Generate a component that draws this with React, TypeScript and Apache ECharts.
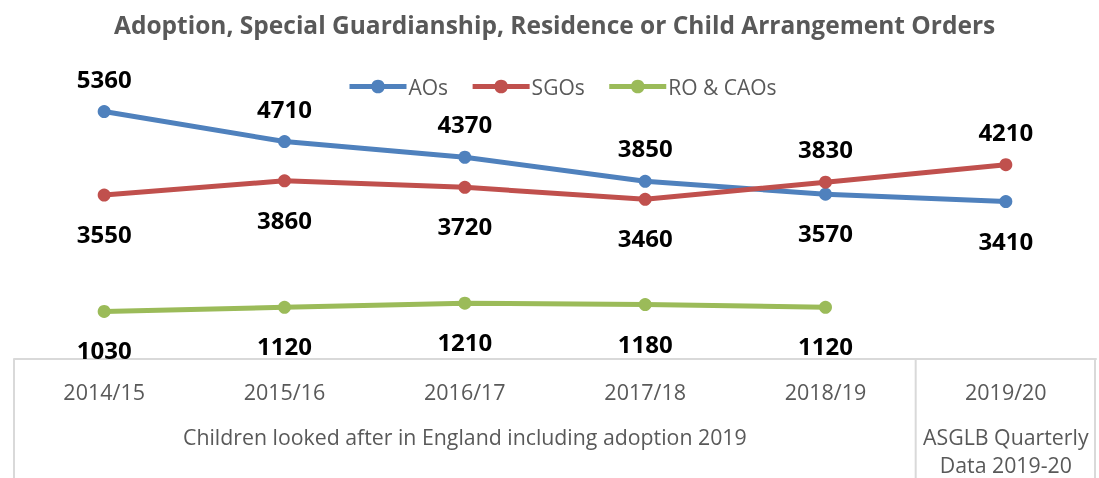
import React, { useEffect, useRef } from "react";
import * as echarts from "echarts";

const categories = ["2014/15", "2015/16", "2016/17", "2017/18", "2018/19", "2019/20"];
const groupLabels = ["", "", "Children looked after in England including adoption 2019", "", "", "ASGLB Quarterly\nData 2019-20"];
const aos = [5360, 4710, 4370, 3850, 3570, 3410];
const sgos = [3550, 3860, 3720, 3460, 3830, 4210];
const roCaos = [1030, 1120, 1210, 1180, 1120, null];
const aosLabelPos = ["top", "top", "top", "top", "bottom", "bottom"];
const sgosLabelPos = ["bottom", "bottom", "bottom", "bottom", "top", "top"];

const FONT = "'Open Sans', 'Noto Sans', sans-serif";
const GRAY = "#595959";
const BORDER = "#d9d9d9";

export default function App() {
  const ref = useRef<HTMLDivElement>(null);
  useEffect(() => {
    if (!ref.current) return;
    const chart = echarts.init(ref.current, undefined, { renderer: "svg" });
    const labelBase = { show: true, fontFamily: FONT, fontWeight: "bold", fontSize: 24, color: "#000" };
    const mk = (vals: (number | null)[], pos: string[] | null, defPos: string) =>
      vals.map((v, i) => {
        const p = pos ? pos[i] : defPos;
        return { value: v, label: { position: p, distance: p === "top" ? 15 : 20 } };
      });
    chart.setOption({
      animation: false,
      textStyle: { fontFamily: FONT },
      title: {
        text: "Adoption, Special Guardianship, Residence or Child Arrangement Orders",
        left: 109,
        top: 7,
        textStyle: { fontFamily: FONT, fontWeight: "bold", fontSize: 24.5, color: GRAY },
      },
      legend: {
        left: 347,
        top: 76,
        padding: 0,
        itemWidth: 57,
        itemHeight: 17,
        itemGap: 22,
        lineStyle: { width: 5 },
        textStyle: { fontFamily: FONT, fontSize: 21, color: GRAY, padding: [0, 0, 0, -3] },
        data: ["AOs", "SGOs", "RO & CAOs"],
      },
      grid: { left: 14, right: 3, top: 82, bottom: 117 },
      xAxis: [
        {
          type: "category",
          data: categories,
          position: "bottom",
          axisLine: { show: true, lineStyle: { color: BORDER, width: 2 } },
          axisTick: { show: false },
          axisLabel: { interval: 0, margin: 21, fontFamily: FONT, fontSize: 21.5, color: GRAY },
        },
        {
          type: "category",
          data: groupLabels,
          position: "bottom",
          axisLine: { show: false },
          axisTick: { show: false },
          axisLabel: { interval: 0, margin: 63, fontFamily: FONT, fontSize: 21.3, lineHeight: 28, color: GRAY, verticalAlign: "top" },
        },
      ],
      yAxis: { type: "value", min: 0, max: 6000, show: false, splitLine: { show: false } },
      series: [
        {
          name: "AOs",
          type: "line",
          data: mk(aos, aosLabelPos, "top"),
          symbol: "circle",
          symbolSize: 13,
          lineStyle: { width: 5, color: "#4f81bd" },
          itemStyle: { color: "#4f81bd" },
          label: labelBase,
        },
        {
          name: "SGOs",
          type: "line",
          data: mk(sgos, sgosLabelPos, "bottom"),
          symbol: "circle",
          symbolSize: 13,
          lineStyle: { width: 5, color: "#c0504d" },
          itemStyle: { color: "#c0504d" },
          label: labelBase,
        },
        {
          name: "RO & CAOs",
          type: "line",
          data: mk(roCaos, null, "bottom"),
          symbol: "circle",
          symbolSize: 13,
          lineStyle: { width: 5, color: "#9bbb59" },
          itemStyle: { color: "#9bbb59" },
          label: labelBase,
        },
      ],
    });
    const x0 = chart.convertToPixel({ xAxisIndex: 0 }, 0) as number;
    const x1 = chart.convertToPixel({ xAxisIndex: 0 }, 1) as number;
    const x5 = chart.convertToPixel({ xAxisIndex: 0 }, 5) as number;
    const band = x1 - x0;
    const yBase = chart.convertToPixel({ yAxisIndex: 0 }, 0) as number;
    const xs = [x0 - band / 2, x5 - band / 2, x5 + band / 2 - 1];
    chart.setOption({
      graphic: xs.map((x) => ({
        type: "line",
        shape: { x1: x, y1: yBase, x2: x, y2: 478 },
        style: { stroke: BORDER, lineWidth: 2 },
        silent: true,
      })),
    });
    return () => chart.dispose();
  }, []);
  return <div ref={ref} style={{ position: "fixed", left: 0, top: 0, width: 1099, height: 478 }} />;
}
